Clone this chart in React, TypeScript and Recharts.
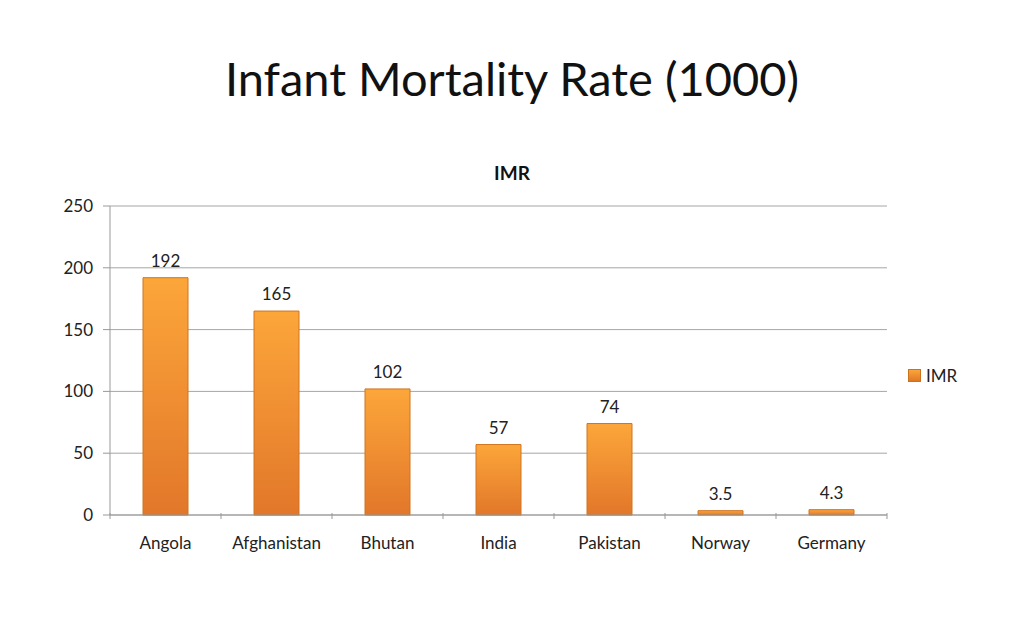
import React from 'react';
import { BarChart, Bar, XAxis, YAxis, CartesianGrid, Legend, LabelList } from 'recharts';

const countries = ['Angola', 'Afghanistan', 'Bhutan', 'India', 'Pakistan', 'Norway', 'Germany'];
const imr = [192, 165, 102, 57, 74, 3.5, 4.3];
const yTicks = [0, 50, 100, 150, 200, 250];

const data = countries.map((name, i) => ({ name, IMR: imr[i] }));

const FONT = 'Lato, "Open Sans", sans-serif';

const CategoryTick = (props: any) => {
  const { x, y, payload, index, visibleTicksCount } = props;
  const half = 777 / countries.length / 2;
  const top = y - 10;
  return (
    <g>
      <line x1={x - half} y1={top} x2={x - half} y2={top + 6} stroke="#999" />
      {index === visibleTicksCount - 1 && (
        <line x1={x + half} y1={top} x2={x + half} y2={top + 6} stroke="#999" />
      )}
      <text x={x} y={y + 26} textAnchor="middle" fontSize={17} fill="#222" fontFamily={FONT}>
        {payload.value}
      </text>
    </g>
  );
};

const LegendBox = () => (
  <div style={{ display: 'flex', alignItems: 'center', fontFamily: FONT, fontSize: 17, color: '#222' }}>
    <span
      style={{
        display: 'inline-block',
        width: 11,
        height: 11,
        marginRight: 5,
        background: 'linear-gradient(#fba53a, #e07824)',
        border: '1px solid #c9731f',
      }}
    />
    IMR
  </div>
);

export default function App() {
  return (
    <div style={{ position: 'absolute', left: 0, top: 0, width: 1024, height: 629, background: '#fff' }}>
      <div
        style={{
          position: 'absolute',
          left: 0,
          width: 1024,
          top: 50,
          textAlign: 'center',
          fontFamily: FONT,
          fontSize: 47,
          color: '#111',
        }}
      >
        Infant Mortality Rate (1000)
      </div>
      <div
        style={{
          position: 'absolute',
          left: 0,
          width: 1024,
          top: 161,
          textAlign: 'center',
          fontFamily: FONT,
          fontWeight: 'bold',
          fontSize: 19,
          color: '#111',
        }}
      >
        IMR
      </div>
      <BarChart
        width={1024}
        height={629}
        data={data}
        margin={{ top: 206, right: 57, bottom: 84, left: 0 }}
        style={{ position: 'absolute', left: 0, top: 0 }}
      >
        <defs>
          <linearGradient id="barFill" x1="0" y1="0" x2="0" y2="1">
            <stop offset="0%" stopColor="#fca63a" />
            <stop offset="100%" stopColor="#e2772a" />
          </linearGradient>
        </defs>
        <CartesianGrid vertical={false} stroke="#a6a6a6" />
        <XAxis
          dataKey="name"
          stroke="#999"
          tickLine={false}
          tick={<CategoryTick />}
          interval={0}
        />
        <YAxis
          width={110}
          domain={[0, 250]}
          ticks={yTicks}
          stroke="#999"
          tickSize={7}
          tickMargin={10}
          tick={{ fontSize: 17, fill: '#222', fontFamily: FONT }}
        />
        <Legend
          layout="vertical"
          align="right"
          verticalAlign="top"
          content={<LegendBox />}
          wrapperStyle={{ left: 908, top: 365, width: 80 }}
        />
        <Bar dataKey="IMR" fill="url(#barFill)" stroke="#cf7420" strokeWidth={1} barSize={45} isAnimationActive={false}>
          <LabelList dataKey="IMR" position="top" offset={11} fill="#222" fontSize={17} fontFamily={FONT} />
        </Bar>
      </BarChart>
    </div>
  );
}
